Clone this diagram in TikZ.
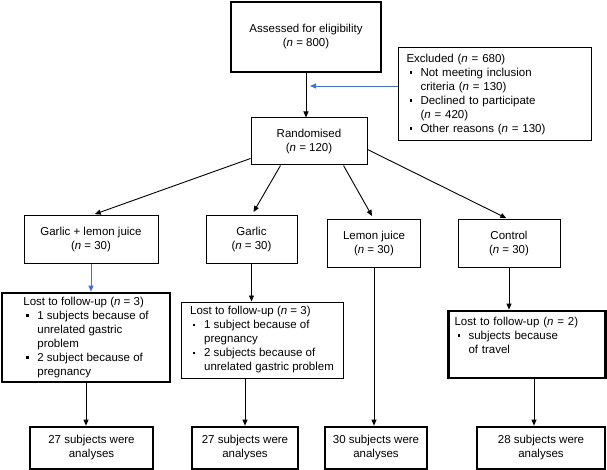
\documentclass[tikz,border=0pt]{standalone}
\usepackage{fontspec}
\setmainfont{Liberation Sans}
\usetikzlibrary{arrows.meta, positioning, calc}
\definecolor{linkblue}{RGB}{68,114,196}
\newcommand{\sqbul}{\rule[0.25em]{2.2pt}{2.2pt}}
\newcommand{\itm}{\makebox[14pt][l]{\hspace{3pt}\sqbul}}
\newcommand{\ind}{\hspace*{14pt}}
\newcommand{\nvar}{\textit{n}}
\tikzset{
  flowbox/.style={
    draw, rectangle, line width=1pt,
    inner sep=0pt, align=center,
    font=\fontsize{11.5}{14}\selectfont
  },
  heavybox/.style={
    flowbox, line width=2.7pt
  },
  listbox/.style={
    align=left, inner xsep=7pt
  },
  arrow/.style={
    -{Triangle[length=6pt,width=5pt]}, line width=0.9pt
  }
}

\begin{document}
\begin{tikzpicture}[x=1pt, y=-1pt]
    \useasboundingbox (0,0) rectangle (607,470);

    % enrolment
    \node[heavybox, minimum width=150pt, minimum height=70pt] (assess) at (306,37) {Assessed for eligibility\\(\nvar{} = 800)};
    \node[flowbox, listbox, text width=177pt, inner xsep=8pt, minimum height=93pt] (excl) at (495,94.5) {Excluded (\nvar{} = 680)\\ \itm Not meeting inclusion\\ \ind criteria (\nvar{} = 130)\\ \itm Declined to participate\\ \ind (\nvar{} = 420)\\ \itm Other reasons (\nvar{} = 130)};
    \node[flowbox, minimum width=116pt, minimum height=47pt] (rand) at (309,141.5) {Randomised\\(\nvar{} = 120)};

    % allocation
    \node[flowbox, minimum width=134pt, minimum height=47pt] (glj) at (91,239.5) {Garlic + lemon juice\\(\nvar{} = 30)};
    \node[flowbox, minimum width=91pt, minimum height=47pt] (gar) at (251.5,239.5) {Garlic\\(\nvar{} = 30)};
    \node[flowbox, minimum width=93pt, minimum height=47pt] (lem) at (374,243.5) {Lemon juice\\(\nvar{} = 30)};
    \node[flowbox, minimum width=102pt, minimum height=47pt] (ctl) at (509,243.5) {Control\\(\nvar{} = 30)};

    % follow-up
    \node[heavybox, listbox, minimum width=168pt, minimum height=89pt] (lost1) at (86,337.5) {Lost to follow-up (\nvar{} = 3)\\ \itm 1 subjects because of\\ \ind unrelated gastric\\ \ind problem\\ \itm 2 subject because of\\ \ind pregnancy};
    \node[flowbox, listbox, minimum width=162pt, minimum height=76pt] (lost2) at (262,340) {Lost to follow-up (\nvar{} = 3)\\ \itm 1 subject because of\\ \ind pregnancy\\ \itm 2 subjects because of\\ \ind unrelated gastric problem};
    \node[heavybox, listbox, text width=145pt, inner xsep=6pt, minimum height=67pt] (lost3) at (527,344.5) {Lost to follow-up (\nvar{} = 2)\\ \itm subjects because\\ \ind of travel\\ \strut};

    % analysis
    \node[heavybox, minimum width=123pt, minimum height=42pt] (fin1) at (91.5,448) {27 subjects were\\analyses};
    \node[heavybox, minimum width=106pt, minimum height=42pt] (fin2) at (245,448) {27 subjects were\\analyses};
    \node[heavybox, minimum width=102pt, minimum height=42pt] (fin3) at (376,448) {30 subjects were\\analyses};
    \node[heavybox, minimum width=128pt, minimum height=42pt] (fin4) at (541,448) {28 subjects were\\analyses};

    \coordinate (excljoin) at (310,86);
    \draw[arrow] (assess.south) -- (assess.south |- rand.north);
    \draw[arrow, linkblue] (excl.west |- excljoin) -- (excljoin);

    \draw[arrow, shorten >=4pt] ([yshift=7pt]rand.south west) -- (glj.north);
    \draw[arrow, shorten >=4pt] ([xshift=30pt]rand.south west) -- (gar.north);
    \draw[arrow, shorten >=4pt] ([xshift=-24pt]rand.south east) -- (lem.north);
    \draw[arrow, shorten >=3pt] ([yshift=16pt]rand.south east) -- (ctl.north);

    \draw[arrow, linkblue] (glj.south) -- (glj.south |- lost1.north);
    \draw[arrow] (gar.south) -- (gar.south |- lost2.north);
    \draw[arrow] (ctl.south) -- (ctl.south |- lost3.north);

    \draw[arrow] (lost1.south) -- (lost1.south |- fin1.north);
    \draw[arrow] (lost2.south -| fin2.north) -- (fin2.north);
    \draw[arrow] (lem.south) -- (lem.south |- fin3.north);
    \draw[arrow] ($(lost3.south)+(7,0)$) coordinate (l3out) -- (l3out |- fin4.north);
\end{tikzpicture}
\end{document}
